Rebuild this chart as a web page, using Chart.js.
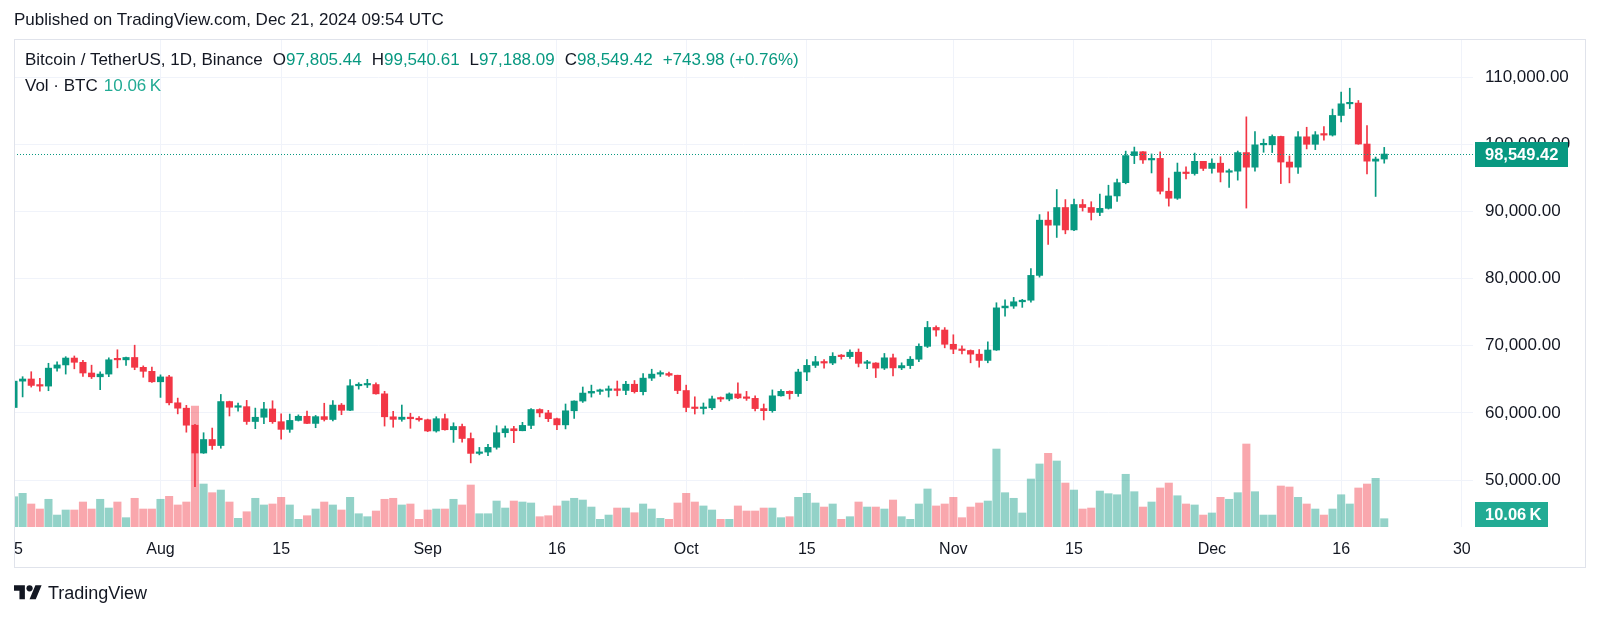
<!DOCTYPE html>
<html>
<head>
<meta charset="utf-8">
<title>BTCUSDT 1D</title>
<script src="https://cdn.jsdelivr.net/npm/chart.js@4.4.1/dist/chart.umd.min.js"></script>
<style>
    html, body { margin: 0; padding: 0; background: #fff; }
    body {
        width: 1600px; height: 618px; position: relative; overflow: hidden;
        font-family: 'Liberation Sans', Arial, sans-serif; color: #131722;
    }
    #chart { position: absolute; left: 0; top: 0; }
    .txt { position: absolute; white-space: nowrap; font-size: 17px; line-height: 20px; }
    .up { color: #089981; }
    .vol { color: #22ab94; }
    .gap { margin-left: 10px; }
    .gap-s { margin-left: 6px; }
    #footer { position: absolute; left: 14px; top: 582px; height: 22px; }
    #footer svg { position: absolute; left: 0; top: 0; }
    #footer span { position: absolute; left: 34px; top: 0; font-size: 18px; line-height: 22px; white-space: nowrap; }
</style>
</head>
<body>
<canvas id="chart" width="1600" height="618"></canvas>
<div class="txt" style="left:14px; top:10px;">Published on TradingView.com, Dec 21, 2024 09:54 UTC</div>
<div class="txt" id="legend" style="left:25px; top:50px;"></div>
<div class="txt" id="legendVol" style="left:25px; top:76px;"></div>
<div id="footer">
    <svg width="28" height="22" viewBox="0 0 36 28"><path d="M14 22H7V11H0V4h14v18zM28 22h-8l7.5-18h8L28 22z" fill="#131722"/><circle cx="20" cy="8" r="4" fill="#131722"/></svg>
    <span>TradingView</span>
</div>

<script>
/* ========== BTCUSDT daily, Jul 15 - Dec 21 2024 ========== */

// day index 0 = Jul 15
const opens = [
    60797, 64724, 65043, 64087, 63987, 66660, 67139, 68165, 67532, 65936, 65372, 65777, 67907, 67896, 68249, 66784, 66188,
    64628, 65354, 61498, 60697, 58161, 54018, 56030, 55134, 61685, 60837, 60923, 58712, 59346, 60587, 58683, 57541,
    58874, 59491, 58427, 59438, 59013, 61156, 60381, 64037, 64157, 64220, 62834, 59415, 59034, 59359, 59123,
    58973, 57301, 59132, 57487, 57970, 56180, 53962, 54160, 54869, 57042, 57635, 57339, 58132, 60498, 59993,
    59132, 58213, 60309, 61759, 62947, 63201, 63348, 63578, 63339, 64262, 63152, 65173, 65769, 65858, 65602,
    63327, 60805, 60649, 60752, 62086, 62058, 62819, 62224, 62160, 60636, 60327, 62540, 63206, 62870, 66083,
    67074, 67620, 67421, 68428, 68378, 69032, 67378, 67426, 66668, 68198, 66698, 67041, 67987, 69907, 72720, 72339,
    70215, 69482, 69289, 68741, 67811, 69359, 75639, 75904, 76545, 76778, 80474, 88701, 87955, 90585, 87250,
    91032, 90586, 89855, 90464, 92310, 94286, 98317, 98892, 97672, 97900, 93010, 91965, 95863, 95643, 97460,
    96407, 97185, 95840, 96002, 98768, 96593, 99920, 99923, 101170, 97356, 96600, 101116, 100000, 101417, 101372,
    104298, 106030, 106140, 100041, 97490, 97805.44,
];
const highs = [
    64900, 65388, 66128, 65133, 67386, 67598, 68366, 68474, 67818, 67102, 66112, 68200, 69399, 68318, 70079, 67000, 66810,
    65660, 65596, 62198, 61117, 58305, 57040, 57737, 62745, 61744, 61470, 61858, 60711, 61578, 61800, 59849, 59817,
    59700, 60284, 59617, 61432, 61820, 61400, 64955, 64494, 65000, 64481, 63212, 60234, 61166, 59944, 59462,
    59072, 59425, 59809, 58519, 58327, 57008, 54850, 55318, 58088, 58044, 57981, 58588, 60625, 60610, 60380,
    59210, 61320, 61786, 63850, 64133, 63559, 64000, 64745, 64688, 64817, 65839, 66498, 66260, 66076, 65618,
    64130, 62392, 61470, 62484, 62370, 62975, 64478, 63200, 62543, 61321, 63417, 63480, 63285, 66500, 67950,
    68424, 67939, 68969, 68695, 69400, 69519, 67836, 67472, 68850, 68771, 67454, 68388, 70270, 73620, 72961, 72700,
    71632, 70000, 69373, 69430, 70577, 76400, 76850, 77199, 76900, 81500, 89530, 89956, 93265, 91765, 91850,
    91779, 91449, 92594, 93905, 94831, 98984, 99588, 98908, 98564, 98871, 94973, 97208, 96650, 98693, 97463,
    97836, 98150, 96305, 99000, 104088, 101898, 100780, 101399, 101215, 98270, 101895, 102540, 101895, 102650,
    105250, 107780, 108353, 106524, 102800, 98100, 99540.61,
];
const lows = [
    60632, 62373, 63842, 63238, 63300, 66222, 65777, 66559, 65441, 65111, 63456, 65386, 66705, 67066, 66428, 65302, 64527,
    62302, 61200, 59850, 57122, 49000, 53962, 54558, 54730, 59535, 60242, 58286, 57642, 58392, 58433, 56078, 57098,
    58785, 58408, 57787, 58785, 58783, 59724, 60345, 63531, 63773, 62800, 58034, 57860, 58750, 57701, 58744,
    57201, 57128, 57415, 55606, 55643, 52550, 53745, 53629, 54591, 56386, 55545, 57324, 57632, 59400, 58696,
    57493, 57610, 59174, 61555, 62350, 62758, 62357, 62538, 62700, 62947, 62670, 64819, 65422, 65432, 62856,
    60164, 59828, 59828, 60459, 61689, 61798, 62128, 61860, 60300, 58946, 60087, 62487, 62050, 62457, 64800,
    66750, 66666, 67177, 68000, 68100, 66840, 66571, 65260, 66454, 65520, 66439, 66600, 67618, 69730, 71436, 69685,
    68820, 68782, 67456, 66803, 67458, 69298, 74417, 75559, 75714, 76492, 80216, 85072, 86127, 86668, 87124,
    90056, 88722, 89376, 90357, 91500, 94113, 97122, 97136, 95734, 92600, 90791, 91792, 94827, 95407, 96092,
    95693, 94395, 93578, 94660, 90500, 95982, 98810, 98771, 94150, 94256, 95657, 99311, 99205, 100609,
    101227, 103322, 105321, 100000, 95587, 92230, 97188.09,
];
const closes = [
    64724, 65043, 64087, 63987, 66660, 67139, 68165, 67532, 65936, 65372, 65777, 67907, 67896, 68249, 66784, 66188, 64628,
    65354, 61498, 60697, 58161, 54018, 56030, 55134, 61685, 60837, 60923, 58712, 59346, 60587, 58683, 57541, 58874,
    59491, 58427, 59438, 59013, 61156, 60381, 64037, 64157, 64220, 62834, 59415, 59034, 59359, 59123, 58973,
    57301, 59132, 57487, 57970, 56180, 53962, 54160, 54869, 57042, 57635, 57339, 58132, 60498, 59993, 59132,
    58213, 60309, 61759, 62947, 63201, 63348, 63578, 63339, 64262, 63152, 65173, 65769, 65858, 65602, 63327,
    60805, 60649, 60752, 62086, 62058, 62819, 62224, 62160, 60636, 60327, 62540, 63206, 62870, 66083, 67074,
    67620, 67421, 68428, 68378, 69032, 67378, 67426, 66668, 68198, 66698, 67041, 67987, 69907, 72720, 72339, 70215,
    69482, 69289, 68741, 67811, 69359, 75639, 75904, 76545, 76778, 80474, 88701, 87955, 90585, 87250, 91032,
    90586, 89855, 90464, 92310, 94286, 98317, 98892, 97672, 97900, 93010, 91965, 95863, 95643, 97460, 96407,
    97185, 95840, 96002, 98768, 96593, 99920, 99923, 101170, 97356, 96600, 101116, 100000, 101417, 101372,
    104298, 106030, 106140, 100041, 97490, 97805.44, 98549.42,
];
// volume in thousands of BTC
const volumes = [
    36.7, 40.8, 27.9, 21.8, 33.6, 14.5, 20.6, 20.6, 30.3, 21.8, 33.6, 23.0, 30.3, 11.3, 34.8, 21.8, 21.8,
    33.6, 37.2, 26.7, 30.3, 146.7, 52.1, 41.6, 44.8, 30.3, 10.5, 18.5, 34.8, 26.7, 27.9, 36.0, 26.7,
    9.3, 13.7, 21.8, 30.3, 26.7, 20.6, 36.0, 16.1, 12.5, 19.4, 33.6, 34.8, 26.7, 27.9, 9.3,
    20.6, 21.8, 21.8, 33.6, 26.7, 50.9, 16.1, 16.1, 31.5, 23.0, 31.5, 30.3, 29.1, 12.5, 13.7,
    25.5, 31.5, 34.8, 32.7, 24.2, 9.3, 14.5, 23.0, 23.0, 17.3, 27.9, 21.8, 10.5, 9.3, 29.1,
    40.8, 30.3, 25.5, 20.6, 9.3, 9.3, 25.5, 19.4, 19.4, 23.0, 23.0, 11.3, 12.5, 36.0, 40.8,
    29.1, 24.2, 27.9, 9.3, 12.5, 30.3, 24.2, 24.2, 21.8, 32.7, 12.5, 9.3, 27.9, 46.1, 25.5, 27.9,
    36.0, 11.3, 24.2, 29.1, 31.5, 94.5, 41.6, 34.8, 17.0, 58.2, 76.4, 89.3, 80.0, 53.3, 44.8,
    21.8, 23.0, 43.6, 40.4, 39.1, 63.9, 42.8, 24.2, 30.3, 47.3, 53.3, 37.9, 27.9, 26.7, 14.5,
    17.0, 36.0, 33.6, 41.6, 100.6, 42.8, 14.5, 14.5, 49.7, 48.5, 36.0, 27.9, 21.8, 14.5,
    21.8, 39.1, 27.9, 47.3, 52.1, 59.0, 10.06,
];

// x axis: day index of each label; the first one is "15" (Jul) clipped to "5" at the edge
const tickDays = [0, 17, 31, 48, 63, 78, 92, 109, 123, 139, 154, 168];
const tickLabels = ['\u20075', 'Aug', '15', 'Sep', '16', 'Oct', '15', 'Nov', '15', 'Dec', '16', '30'];
const priceTicks = [50000, 60000, 70000, 80000, 90000, 100000, 110000];

const palette = {
    up: '#089981',
    down: '#f23645',
    upVol: 'rgba(8, 153, 129, 0.44)',
    downVol: 'rgba(242, 54, 69, 0.44)',
    volTag: '#22ab94',
    text: '#131722',
    grid: '#f0f3fa',
    frame: '#e0e3eb',
};
const fontFamily = "'Liberation Sans', Arial, sans-serif";

const last = closes.length - 1;
const isUp = closes.map((c, i) => c >= opens[i]);

function fmt(v) {
    return v.toLocaleString('en-US', { minimumFractionDigits: 2, maximumFractionDigits: 2 });
}

// legend line from the last candle
const change = closes[last] - closes[last - 1];
const pct = change / closes[last - 1] * 100;
document.getElementById('legend').innerHTML =
    'Bitcoin / TetherUS, 1D, Binance' +
    '<span class="gap">O</span><span class="up">' + fmt(opens[last]) + '</span>' +
    '<span class="gap">H</span><span class="up">' + fmt(highs[last]) + '</span>' +
    '<span class="gap">L</span><span class="up">' + fmt(lows[last]) + '</span>' +
    '<span class="gap">C</span><span class="up">' + fmt(closes[last]) + '</span>' +
    '<span class="gap up">+' + fmt(change) + ' (+' + pct.toFixed(2) + '%)</span>';
document.getElementById('legendVol').innerHTML =
    'Vol · BTC<span class="gap-s vol">' + volumes[last].toFixed(2) + '\u202FK</span>';

const overlay = {
    id: 'overlay',
    afterDatasetsDraw(chart) {
        const { ctx, chartArea, scales } = chart;
        const y = scales.y.getPixelForValue(closes[last]);
        ctx.save();
        ctx.strokeStyle = palette.up;
        ctx.lineWidth = 1;
        ctx.setLineDash([1, 2]);
        ctx.beginPath();
        ctx.moveTo(chartArea.left, Math.round(y) + 0.5);
        ctx.lineTo(chartArea.right, Math.round(y) + 0.5);
        ctx.stroke();
        ctx.restore();
    },
    afterDraw(chart) {
        const { ctx, chartArea, scales } = chart;
        ctx.save();
        // frame
        ctx.strokeStyle = palette.frame;
        ctx.lineWidth = 1;
        ctx.strokeRect(14.5, 39.5, 1571, 528);

        // last price tag
        const y = scales.y.getPixelForValue(closes[last]);
        ctx.fillStyle = palette.up;
        ctx.fillRect(chartArea.right + 2, Math.round(y) - 12, 93, 25);
        ctx.fillStyle = '#fff';
        ctx.font = 'bold 16.5px ' + fontFamily;
        ctx.textBaseline = 'middle';
        ctx.fillText(fmt(closes[last]), chartArea.right + 12, Math.round(y) + 1);

        // last volume tag
        ctx.fillStyle = palette.volTag;
        ctx.fillRect(chartArea.right + 2, chartArea.bottom - 25, 73, 25);
        ctx.fillStyle = '#fff';
        ctx.fillText(volumes[last].toFixed(2) + '\u202FK', chartArea.right + 12, chartArea.bottom - 12);
        ctx.restore();
    },
};

const ctx = document.getElementById('chart').getContext('2d');
new Chart(ctx, {
    type: 'bar',
    data: {
        datasets: [
            {
                label: 'Vol',
                data: volumes.map((v, i) => ({ x: i, y: v })),
                yAxisID: 'vol',
                backgroundColor: isUp.map(u => u ? palette.upVol : palette.downVol),
                barThickness: 7.4,
                grouped: false,
                order: 3,
            },
            {
                label: 'Wick',
                data: lows.map((l, i) => ({ x: i, y: [l, highs[i]] })),
                yAxisID: 'y',
                backgroundColor: isUp.map(u => u ? palette.up : palette.down),
                barThickness: 1,
                grouped: false,
                order: 2,
            },
            {
                label: 'Body',
                data: opens.map((o, i) => ({ x: i, y: [o, closes[i]] })),
                yAxisID: 'y',
                backgroundColor: isUp.map(u => u ? palette.up : palette.down),
                barThickness: 6.4,
                minBarLength: 1.5,
                grouped: false,
                order: 1,
            },
        ],
    },
    options: {
        responsive: false,
        animation: false,
        events: [],
        layout: { padding: { top: 39, left: 14, right: 15, bottom: 0 } },
        plugins: { legend: { display: false }, tooltip: { enabled: false } },
        scales: {
            x: {
                type: 'linear',
                min: 0,
                max: 169.3,
                offset: false,
                grid: { color: palette.grid, drawTicks: false, offset: false },
                border: { display: false },
                afterBuildTicks: scale => { scale.ticks = tickDays.map(v => ({ value: v })); },
                afterFit: scale => {
                    scale.height = 91;
                    scale.paddingLeft = 0;
                    scale.paddingRight = 0;
                },
                ticks: {
                    color: palette.text,
                    font: { family: fontFamily, size: 16 },
                    padding: 13,
                    autoSkip: false,
                    maxRotation: 0,
                    callback: v => tickLabels[tickDays.indexOf(v)],
                },
            },
            y: {
                position: 'right',
                min: 43000,
                max: 115684,
                grid: { color: palette.grid, drawTicks: false },
                border: { display: false },
                afterBuildTicks: scale => { scale.ticks = priceTicks.map(v => ({ value: v })); },
                afterFit: scale => {
                    scale.width = 112;
                    scale.paddingTop = 0;
                    scale.paddingBottom = 0;
                },
                ticks: {
                    color: palette.text,
                    font: { family: fontFamily, size: 17 },
                    padding: 12,
                    callback: v => fmt(v),
                },
            },
            vol: { display: false, min: 0, max: 591.5 },
        },
    },
    plugins: [overlay],
});
</script>
</body>
</html>
